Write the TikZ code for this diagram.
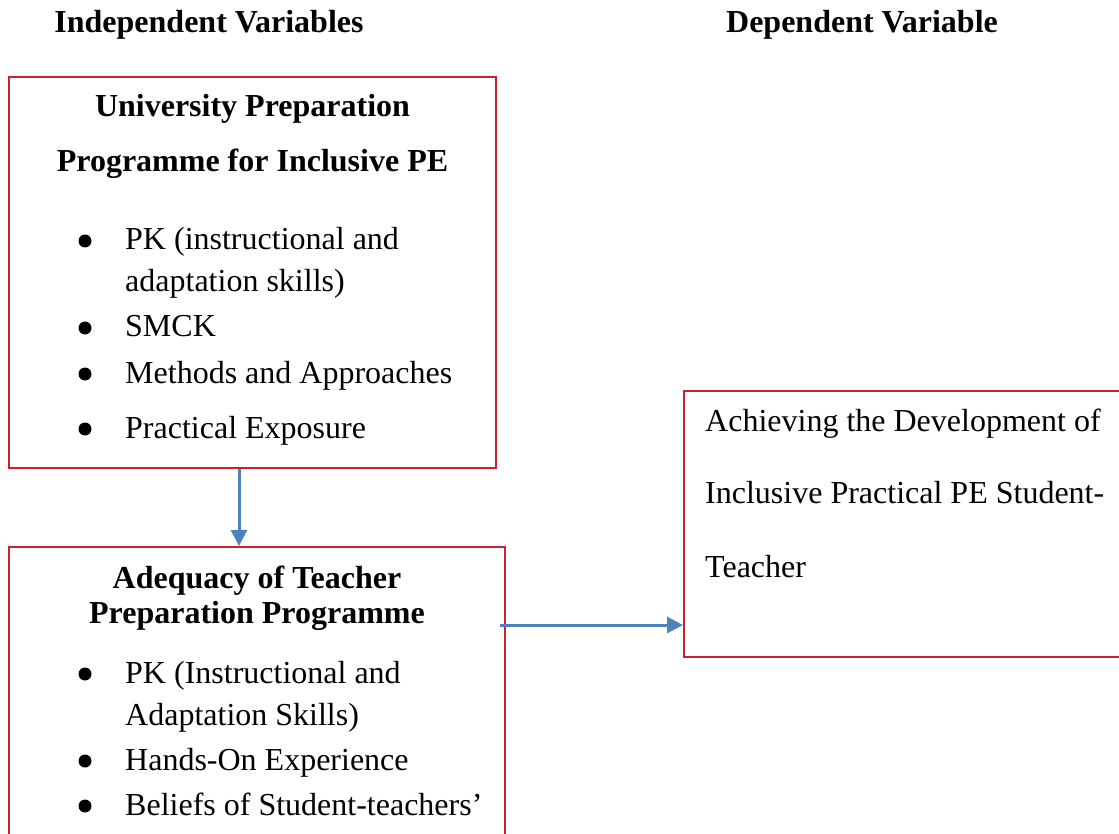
\documentclass[tikz,border=0pt]{standalone}
\usepackage{fontspec}
\setmainfont{Liberation Serif}
\usetikzlibrary{arrows.meta}

\definecolor{boxred}{RGB}{200,35,40}
\definecolor{flowblue}{RGB}{79,129,189}

\begin{document}
\begin{tikzpicture}[
		x=1pt, y=-1pt
		,every node/.append style={font=\fontsize{32}{38}\selectfont, inner sep=0pt}
		,box/.style={rectangle, draw=boxred, line width=2pt}
		,head/.style={font=\fontsize{32}{38}\selectfont\bfseries, anchor=base}
		,item/.style={anchor=base west}
		,dot/.style={circle, fill=black, minimum size=13pt}
		,flow/.style={draw=flowblue, line width=3pt, -{Triangle[length=16pt, width=16pt]}}
	]
	\useasboundingbox (0,0) rectangle (1119,834);
	\clip (0,0) rectangle (1119,834);

	% column titles
	\node [head] (indep) at (209,33) {Independent Variables};
	\node [head] (dep) at (862,33) {Dependent Variable};

	% boxes
	\node [box, minimum width=487pt, minimum height=391pt] (upper) at (252.5,272.5) {};
	\node [box, minimum width=496pt, minimum height=333pt] (lower) at (257,713.5) {};
	\node [box, minimum width=466pt, minimum height=266pt] (outcome) at (917,524) {};

	% university programme
	\node [head] (up1) at (252.5,117) {University Preparation};
	\node [head] (up2) at (252.5,172) {Programme for Inclusive PE};
	\node [dot] (d1) at (85,241) {};
	\node [item] (i1) at (125,250) {PK (instructional and};
	\node [item] (i1b) at (125,292) {adaptation skills)};
	\node [dot] (d2) at (85,328) {};
	\node [item] (i2) at (125,337) {SMCK};
	\node [dot] (d3) at (85,374) {};
	\node [item] (i3) at (125,383) {Methods and Approaches};
	\node [dot] (d4) at (85,429) {};
	\node [item] (i4) at (125,438) {Practical Exposure};

	% adequacy
	\node [head] (lo1) at (257,588) {Adequacy of Teacher};
	\node [head] (lo2) at (257,623) {Preparation Programme};
	\node [dot] (d5) at (85,674) {};
	\node [item] (i5) at (125,683) {PK (Instructional and};
	\node [item] (i5b) at (125,725) {Adaptation Skills)};
	\node [dot] (d6) at (85,761) {};
	\node [item] (i6) at (125,770) {Hands-On Experience};
	\node [dot] (d7) at (85,806) {};
	\node [item] (i7) at (125,815) {Beliefs of Student-teachers’};

	% outcome
	\node [item] (o1) at (705,431) {Achieving the Development of};
	\node [item] (o2) at (705,503) {Inclusive Practical PE Student-};
	\node [item] (o3) at (705,577) {Teacher};

	% links
	\draw [flow] ([xshift=-13.5pt]upper.south) -- ([xshift=-13.5pt]upper.south |- lower.north);
	\coordinate (tap) at ([shift={(-6,79)}]lower.north east);
	\draw [flow] (tap) -- (tap -| outcome.west);
\end{tikzpicture}
\end{document}
